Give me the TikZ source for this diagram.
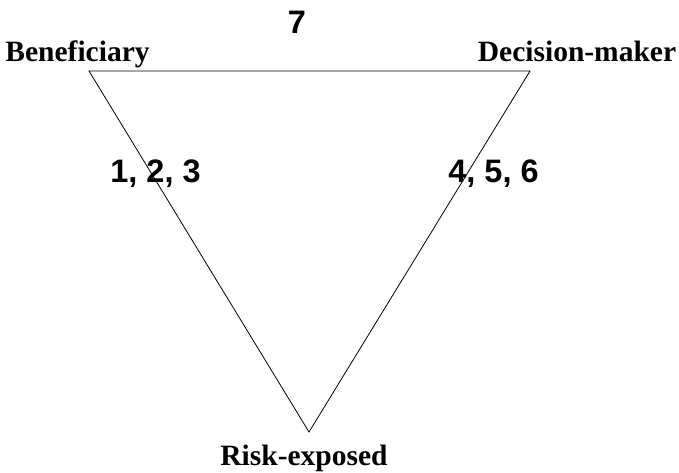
\documentclass[tikz,border=0pt]{standalone}
\usepackage{fontspec}
\setmainfont{Liberation Serif}
\newfontfamily\numfont{Liberation Sans}
\begin{document}
\begin{tikzpicture}[x=1pt,y=-1pt,
  vlabel/.style={font=\fontsize{29.5}{33}\selectfont\bfseries, anchor=base, inner sep=0pt},
  nlabel/.style={font=\numfont\fontsize{32.5}{36}\selectfont\bfseries, anchor=base, inner sep=0pt},
  edge/.style={line width=0.8pt, black}]
\useasboundingbox (0,0) rectangle (679,472);
\coordinate (B) at (89,71);
\coordinate (D) at (530,71);
\coordinate (R) at (309,432);
\draw[edge] (B) -- (D) -- (R) -- cycle;
\node[vlabel] (lb) at (77.5,61) {Beneficiary};
\node[vlabel] (ld) at (577,61) {Decision-maker};
\node[vlabel] (lr) at (304,465) {Risk-exposed};
\node[nlabel] (n7) at (297,33) {7};
\node[nlabel] (n123) at (155.5,182) {1, 2, 3};
\node[nlabel] (n456) at (493.5,182) {4, 5, 6};
\end{tikzpicture}
\end{document}
